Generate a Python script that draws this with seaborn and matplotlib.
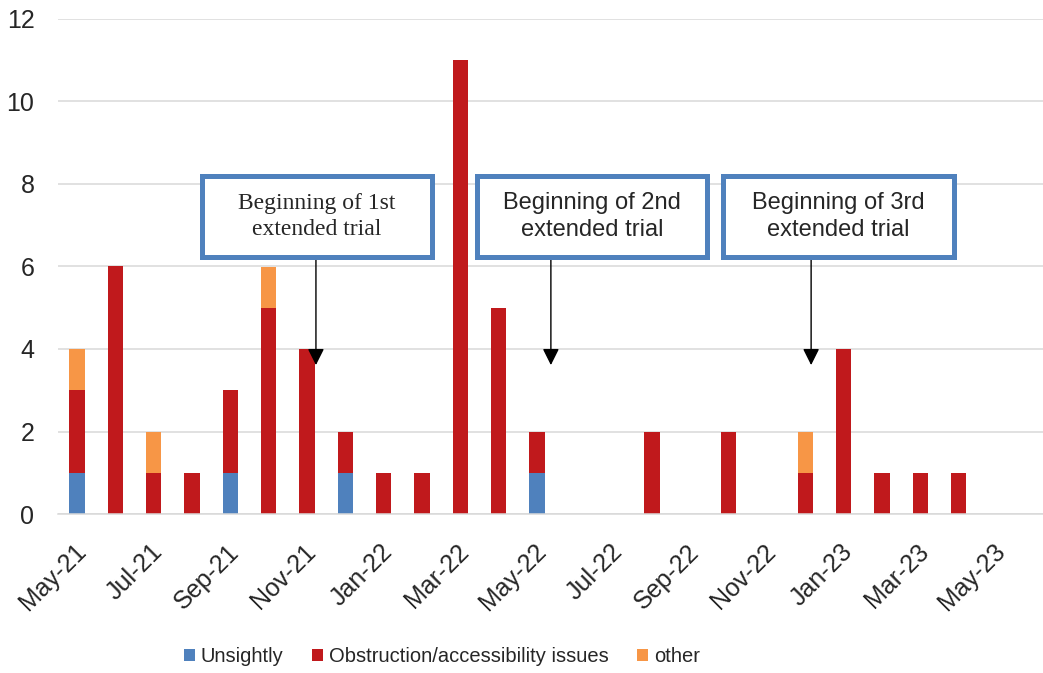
"""Monthly reported issues, stacked by type, with trial start markers."""

import matplotlib.pyplot as plt
import pandas as pd
import seaborn as sns
from matplotlib.patches import Patch, Rectangle
from matplotlib.transforms import ScaledTranslation

MONTHS = [
    "May-21", "Jun-21", "Jul-21", "Aug-21", "Sep-21", "Oct-21", "Nov-21", "Dec-21",
    "Jan-22", "Feb-22", "Mar-22", "Apr-22", "May-22", "Jun-22", "Jul-22", "Aug-22",
    "Sep-22", "Oct-22", "Nov-22", "Dec-22", "Jan-23", "Feb-23", "Mar-23", "Apr-23",
]
UNSIGHTLY = [1, 0, 0, 0, 1, 0, 0, 1, 0, 0, 0, 0, 1, 0, 0, 0, 0, 0, 0, 0, 0, 0, 0, 0]
OBSTRUCTION = [2, 6, 1, 1, 2, 5, 4, 1, 1, 1, 11, 5, 1, 0, 0, 2, 0, 2, 0, 1, 4, 1, 1, 1]
OTHER = [1, 0, 1, 0, 0, 1, 0, 0, 0, 0, 0, 0, 0, 0, 0, 0, 0, 0, 0, 1, 0, 0, 0, 0]

TICK_LABELS = [
    "May-21", "Jul-21", "Sep-21", "Nov-21", "Jan-22", "Mar-22", "May-22",
    "Jul-22", "Sep-22", "Nov-22", "Jan-23", "Mar-23", "May-23",
]

TRIAL_LABELS = [
    "Beginning of 1st\nextended trial",
    "Beginning of 2nd\nextended trial",
    "Beginning of 3rd\nextended trial",
]
# arrow x (months from May-21), box x-extent
TRIAL_ARROW_X = [6.73, 12.86, 19.65]
TRIAL_BOX_X = [(3.76, 9.76), (10.93, 16.93), (17.35, 23.38)]
TRIAL_FONTS = ["Liberation Serif", "Liberation Sans", "Liberation Sans"]

SERIES = ["Unsightly", "Obstruction/accessibility issues", "other"]
COLORS = {
    "Unsightly": "#4F81BD",
    "Obstruction/accessibility issues": "#C0191C",
    "other": "#F79646",
}

sns.set_style("white")
plt.rcParams["font.family"] = ["Liberation Sans", "DejaVu Sans"]

rows = []
for i, m in enumerate(MONTHS):
    for name, vals in zip(SERIES, [UNSIGHTLY, OBSTRUCTION, OTHER]):
        if vals[i] > 0:
            rows.append({"pos": i + 0.5, "month": m, "type": name, "count": vals[i]})
df = pd.DataFrame(rows)

fig = plt.figure(figsize=(10.43, 6.73), dpi=100)
ax = fig.add_axes([58 / 1043, 159 / 673, 1 - 58 / 1043, 495 / 673])

# seaborn stacks the first hue level on top, so list bottom series last
sns.histplot(
    data=df,
    x="pos",
    weights="count",
    hue="type",
    hue_order=SERIES[::-1],
    palette=COLORS,
    multiple="stack",
    discrete=True,
    shrink=0.4,
    alpha=1,
    linewidth=0,
    legend=False,
    ax=ax,
)

ax.set_xlim(0, 25.7)
ax.set_ylim(0, 12)
ax.set_yticks(range(0, 13, 2))
ax.yaxis.grid(True, color="#D9D9D9", linewidth=1.1)
ax.set_axisbelow(True)
for side in ["left", "right", "top"]:
    ax.spines[side].set_visible(False)
ax.spines["bottom"].set_color("#D9D9D9")
ax.spines["bottom"].set_linewidth(1.1)
ax.set_xlabel("")
ax.set_ylabel("")

ax.set_xticks(range(0, 25, 2))
ax.set_xticklabels(TICK_LABELS, rotation=45, ha="right", va="center", rotation_mode="anchor")
ax.tick_params(axis="x", length=6.5, width=1.1, color="#D9D9D9", pad=18, labelsize=18)
ax.tick_params(axis="y", length=0, pad=17, labelsize=18)
shift = ScaledTranslation(0.24, 0, fig.dpi_scale_trans)
for lbl in ax.get_xticklabels():
    lbl.set_transform(lbl.get_transform() + shift)

for label, ax_x, (x0, x1), fam in zip(TRIAL_LABELS, TRIAL_ARROW_X, TRIAL_BOX_X, TRIAL_FONTS):
    y0, y1 = 6.23, 8.19
    ax.add_patch(Rectangle((x0, y0), x1 - x0, y1 - y0, facecolor="white",
                           edgecolor="#4F81BD", linewidth=3.6, zorder=4))
    ax.text((x0 + x1) / 2, (y0 + y1) / 2, label, ha="center", va="center",
            fontsize=17, family=[fam, "DejaVu Sans"], linespacing=1.3, zorder=5)
    ax.annotate("", xy=(ax_x, 3.61), xytext=(ax_x, y0),
                arrowprops=dict(arrowstyle="-|>,head_length=0.4,head_width=0.2",
                                color="black", lw=1, mutation_scale=25,
                                shrinkA=0, shrinkB=0), zorder=3)

handles = [Patch(facecolor=COLORS[s], edgecolor="none", label=s) for s in SERIES]
fig.legend(handles=handles, loc="center", bbox_to_anchor=(442 / 1043, 16 / 673),
           ncol=3, frameon=False, fontsize=14.5, handlelength=0.55, handleheight=0.55,
           handletextpad=0.3, columnspacing=1.4)

fig.savefig("out.png", dpi=100)
plt.close(fig)
